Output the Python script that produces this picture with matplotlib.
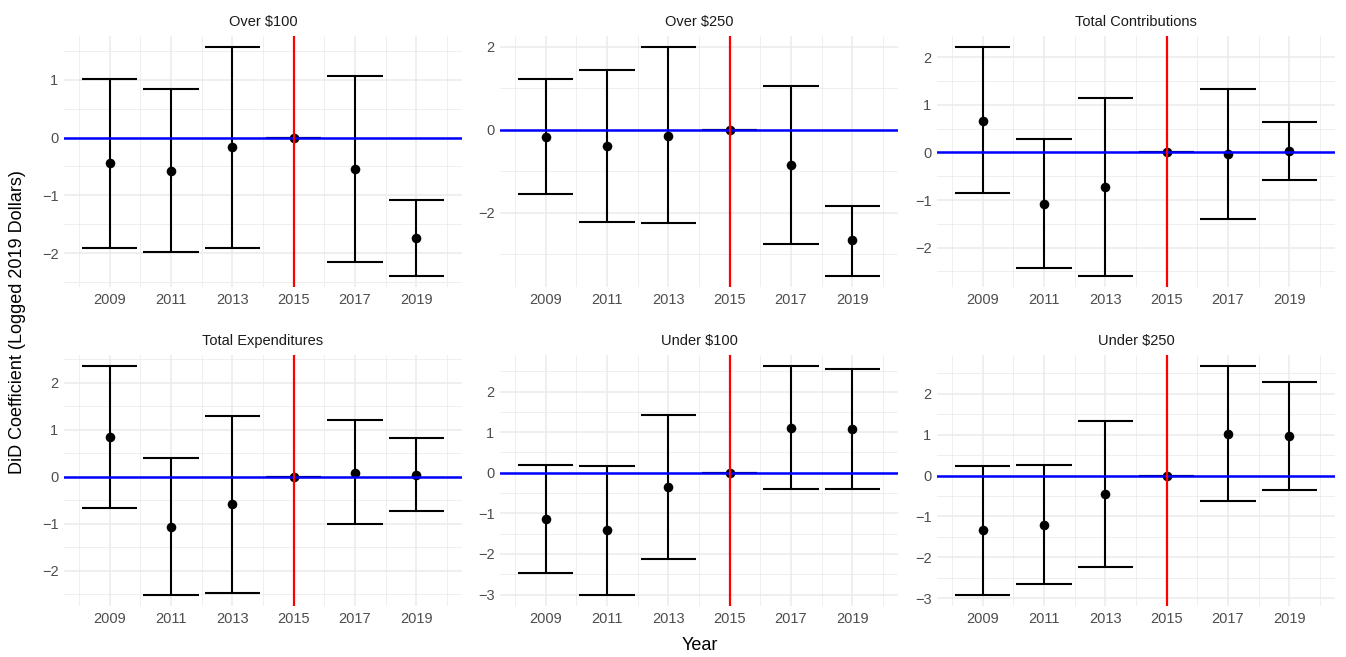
import numpy as np
import matplotlib.pyplot as plt
from matplotlib.ticker import MultipleLocator, FixedLocator

plt.rcParams['font.family'] = ['Liberation Sans', 'DejaVu Sans']

years = [2009, 2011, 2013, 2015, 2017, 2019]
panels = ['Over $100', 'Over $250', 'Total Contributions',
          'Total Expenditures', 'Under $100', 'Under $250']

# point estimates and 95% CI bounds per outcome
coef = {
    'Over $100':           [-0.44, -0.58, -0.17, 0.0, -0.54, -1.74],
    'Over $250':           [-0.17, -0.40, -0.14, 0.0, -0.84, -2.67],
    'Total Contributions': [0.67, -1.08, -0.73, 0.0, -0.03, 0.04],
    'Total Expenditures':  [0.84, -1.06, -0.58, 0.0, 0.09, 0.04],
    'Under $100':          [-1.14, -1.42, -0.35, 0.0, 1.10, 1.07],
    'Under $250':          [-1.34, -1.20, -0.45, 0.0, 1.02, 0.97],
}
ci_low = {
    'Over $100':           [-1.91, -1.98, -1.91, 0.0, -2.15, -2.39],
    'Over $250':           [-1.56, -2.23, -2.26, 0.0, -2.76, -3.52],
    'Total Contributions': [-0.85, -2.43, -2.59, 0.0, -1.41, -0.57],
    'Total Expenditures':  [-0.67, -2.51, -2.47, 0.0, -1.01, -0.74],
    'Under $100':          [-2.47, -3.00, -2.13, 0.0, -0.40, -0.40],
    'Under $250':          [-2.91, -2.66, -2.23, 0.0, -0.62, -0.36],
}
ci_high = {
    'Over $100':           [1.02, 0.84, 1.56, 0.0, 1.06, -1.09],
    'Over $250':           [1.22, 1.45, 1.99, 0.0, 1.07, -1.84],
    'Total Contributions': [2.21, 0.28, 1.15, 0.0, 1.34, 0.65],
    'Total Expenditures':  [2.35, 0.40, 1.30, 0.0, 1.20, 0.83],
    'Under $100':          [0.19, 0.16, 1.43, 0.0, 2.62, 2.55],
    'Under $250':          [0.24, 0.27, 1.34, 0.0, 2.67, 2.30],
}
event_year = 2015

W, H = 1346, 657
fig = plt.figure(figsize=(W / 100, H / 100), dpi=100)

lefts = [64, 500, 937]
pw = 398
tops = [36, 355]
ph = 251
cap = 0.9  # half width of error bar caps in years
grid_col = '#EBEBEB'

for k, name in enumerate(panels):
    r, c = divmod(k, 3)
    ax = fig.add_axes([lefts[c] / W, 1 - (tops[r] + ph) / H, pw / W, ph / H])
    lo = np.array(ci_low[name])
    hi = np.array(ci_high[name])
    est = np.array(coef[name])
    x = np.array(years, dtype=float)

    ax.vlines(x, lo, hi, color='black', lw=1.5, zorder=3)
    ax.hlines(lo, x - cap, x + cap, color='black', lw=1.5, zorder=3)
    ax.hlines(hi, x - cap, x + cap, color='black', lw=1.5, zorder=3)
    ax.scatter(x, est, s=48, color='black', zorder=4, linewidths=0)
    ax.axhline(0, color='blue', lw=1.8, zorder=5)
    ax.axvline(event_year, color='red', lw=1.6, zorder=5)

    xmin, xmax = x.min() - cap, x.max() + cap
    pad = 0.05 * (xmax - xmin)
    ax.set_xlim(xmin - pad, xmax + pad)
    ymin, ymax = lo.min(), hi.max()
    pad = 0.05 * (ymax - ymin)
    ax.set_ylim(ymin - pad, ymax + pad)

    ax.xaxis.set_major_locator(FixedLocator(years))
    ax.xaxis.set_minor_locator(FixedLocator(np.arange(2008, 2021, 2)))
    step = 2 if name == 'Over $250' else 1
    ax.yaxis.set_major_locator(MultipleLocator(step))
    ax.yaxis.set_minor_locator(MultipleLocator(step / 2))
    ax.yaxis.set_major_formatter(plt.FuncFormatter(
        lambda v, p: f'{v:g}'.replace('-', '\u2212')))

    ax.grid(which='major', color=grid_col, lw=1.1, zorder=0)
    ax.grid(which='minor', color=grid_col, lw=0.55, zorder=0)
    ax.set_axisbelow(True)
    for s in ax.spines.values():
        s.set_visible(False)
    ax.tick_params(which='both', length=0, labelsize=10.5, colors='#4D4D4D', pad=4)
    ax.set_title(name, fontsize=10.5, color='#1A1A1A', pad=7)

fig.text(700 / W, 1 - 645 / H, 'Year', ha='center', va='center', fontsize=13)
fig.text(18 / W, 1 - 322 / H, 'DiD Coefficient (Logged 2019 Dollars)',
         ha='center', va='center', rotation=90, fontsize=13)

fig.savefig('out.png', dpi=100, facecolor='white')
